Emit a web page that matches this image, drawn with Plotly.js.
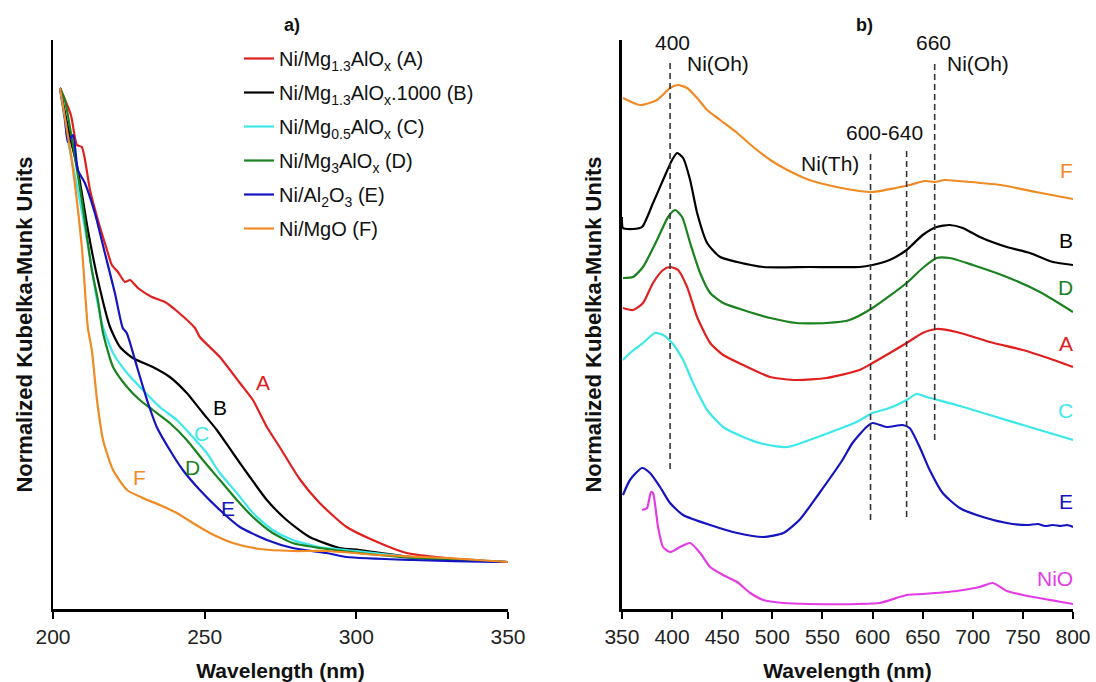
<!DOCTYPE html>
<html>
<head>
<meta charset="utf-8">
<script src="https://cdn.plot.ly/plotly-3.0.1.min.js"></script>
<style>
html,body{margin:0;padding:0;background:#fff;}
#chart{width:1096px;height:682px;}
</style>
</head>
<body>
<div id="chart"></div>
<script>
// ---------- Panel a) UV region (wavelength nm, normalized K-M units) ----------
var aA_x = [202.3,205.9,207.9,209.5,212.2,214.8,217.8,219.4,221.4,223.7,225.4,228.0,232.6,236.9,241.2,246.8,248.4,255.0,261.6,265.9,270.5,274.7,281.3,287.9,296.8,305.4,316.6,329.7,350];
var aA_y = [521,494,464,462,419,389,359,344,337,327,329,321,312,307,297,281,272,252,226,209,182,162,130,106,82,69,56,51,47];

var aB_x = [202.3,205.6,208.2,211.5,214.8,218.8,222.1,226.3,232.9,238.5,244.1,249.4,254.0,259.3,264.9,270.5,277.0,284.6,294.5,301.1,318.5,350];
var aB_y = [521,472,439,379,329,282,262,251,242,232,216,196,179,156,132,109,89,72,61,59,52,47];

var aC_x = [202.3,204.9,208.2,211.5,214.5,216.5,219.8,224.4,229.6,235.2,240.8,246.1,250.7,255.0,260.6,265.9,272.4,279.0,287.9,296.8,318.5,350];
var aC_y = [521,469,419,364,309,282,256,236,219,202,189,172,156,136,116,96,79,69,62,59,52,47];

var aD_x = [202.3,203.9,206.3,209.5,212.8,214.8,216.5,219.8,224.4,228.6,232.9,238.5,244.1,249.4,255.0,260.6,265.9,272.4,279.0,287.9,301.1,318.5,350];
var aD_y = [521,509,469,409,339,309,276,242,222,209,199,186,169,149,129,109,92,76,66,61,56,51,47];

var aE_x = [202.3,204.0,204.9,206.6,208.2,210.5,213.8,217.1,220.4,223.0,224.3,227.7,231.0,234.2,238.5,242.8,248.4,255.0,261.6,270.5,279.0,290.2,296.8,318.5,346.2,350];
var aE_y = [521,489,467,474,439,426,396,356,316,281,276,242,209,182,159,139,119,99,82,69,61,56,52,49,47,47];

var aF_x = [202.3,206.3,209.5,211.5,212.8,214.5,216.5,219.8,224.4,229.6,235.2,240.8,246.1,251.7,259.3,268.2,279.0,290.2,307.7,329.7,350];
var aF_y = [521,446,362,281,259,209,169,139,119,111,104,96,86,76,66,60,58,58,54,51,47];

// ---------- Panel b) visible region ----------
var bF_x = [351,368,385,398,406,415,425,435,448,465,481,498,515,537,564,587,600,623,637,652,662,672,686,728,763,800];
var bF_y = [511,504,509,521,524,521,511,499,489,476,462,449,439,429,422,418,417,421,424,428,427,429,428,424,417,410];

var bB_x = [350,351,361,370,381,391,400,405,411,418,425,435,448,465,491,537,587,600,617,634,650,664,677,690,707,734,757,780,800];
var bB_y = [392,381,380,382,406,429,449,456,451,429,396,366,352,347,342,342,342,344,349,359,374,382,384,381,372,362,356,347,344];

var bD_x = [351,361,371,385,396,403,410,418,428,438,451,471,498,524,554,577,600,634,650,664,677,700,734,767,800];
var bD_y = [331,332,342,369,392,399,392,366,336,316,306,299,291,286,286,289,301,326,341,351,351,344,332,317,297];

var bA_x = [351,361,371,381,391,398,406,415,425,438,451,471,498,524,554,587,600,634,650,664,684,717,750,775,800];
var bA_y = [301,299,306,326,339,342,339,322,292,266,254,244,232,229,231,239,246,266,276,280,277,267,259,251,242];

var bC_x = [351,358,371,383,391,400,411,421,435,451,471,491,515,537,564,584,600,617,634,644,654,684,717,750,800];
var bC_y = [249,256,266,276,274,266,249,226,199,182,172,165,162,169,179,187,196,201,209,215,212,204,194,184,169];

var bE_x = [351,358,370,378,388,398,411,438,465,491,511,527,547,570,580,594,600,614,630,637,647,657,670,687,710,734,754,765,772,780,788,794,800];
var bE_y = [114,129,141,136,122,106,94,84,76,72,76,89,116,149,166,182,186,182,184,181,162,139,116,101,92,86,84,85,83,84,83,84,82];

var bNiO_x = [370,375,379,381,386,391,398,408,418,428,438,451,465,478,491,511,537,587,607,634,650,684,707,720,734,750,800];
var bNiO_y = [99,101,117,116,82,62,57,62,66,56,42,34,27,16,9,6,5,5,6,14,15,18,22,26,18,14,5];

// reference band positions (nm) and their vertical extent
var bandNm    = [398, 598, 634, 662];
var bandLow   = [140, 89, 92, 169];
var bandHigh  = [549, 459, 462, 549];

var legendNames = [
  'Ni/Mg<sub>1.3</sub>AlO<sub>x</sub> (A)',
  'Ni/Mg<sub>1.3</sub>AlO<sub>x</sub>.1000 (B)',
  'Ni/Mg<sub>0.5</sub>AlO<sub>x</sub> (C)',
  'Ni/Mg<sub>3</sub>AlO<sub>x</sub> (D)',
  'Ni/Al<sub>2</sub>O<sub>3</sub> (E)',
  'Ni/MgO (F)'
];
var xTicksA = [200, 250, 300, 350];
var xTicksB = [350, 400, 450, 500, 550, 600, 650, 700, 750, 800];

// ---------- styles ----------
var C = {A:'#e0201e', B:'#000000', C:'#3ee8ea', D:'#1a821e', E:'#1414c0', F:'#f08a24', NiO:'#e43ce4'};
var FONT = 'Liberation Sans, Arial, sans-serif';
var LW = 2.2;

var traces = [];
var aSets = [[aA_x,aA_y,'A'],[aB_x,aB_y,'B'],[aC_x,aC_y,'C'],[aD_x,aD_y,'D'],[aE_x,aE_y,'E'],[aF_x,aF_y,'F']];
aSets.forEach(function(s, i){
  traces.push({x:s[0], y:s[1], type:'scatter', mode:'lines', name:legendNames[i],
    legendgroup:'g'+i, line:{color:C[s[2]], width:LW, shape:'spline', smoothing:0.6},
    xaxis:'x', yaxis:'y', hoverinfo:'skip'});
});
var bSets = [[bF_x,bF_y,'F'],[bB_x,bB_y,'B'],[bD_x,bD_y,'D'],[bA_x,bA_y,'A'],[bC_x,bC_y,'C'],[bE_x,bE_y,'E'],[bNiO_x,bNiO_y,'NiO']];
bSets.forEach(function(s){
  traces.push({x:s[0], y:s[1], type:'scatter', mode:'lines', showlegend:false,
    line:{color:C[s[2]], width:LW, shape:'spline', smoothing:0.6},
    xaxis:'x2', yaxis:'y2', hoverinfo:'skip'});
});
bandNm.forEach(function(nm, i){
  traces.push({x:[nm, nm], y:[bandLow[i], bandHigh[i]], type:'scatter', mode:'lines', showlegend:false,
    line:{color:'#333', width:1.6, dash:'6px,4px'}, xaxis:'x2', yaxis:'y2', hoverinfo:'skip'});
});

function ann(x, y, text, color, xref, yref, opts){
  var a = {x:x, y:y, xref:xref, yref:yref, text:text, showarrow:false,
    font:{family:FONT, size:21, color:color}};
  for (var k in (opts||{})) a[k] = opts[k];
  return a;
}
var annotations = [
  // panel a curve labels
  ann(269.1, 227, 'A', C.A, 'x', 'y'),
  ann(254.9, 202, 'B', C.B, 'x', 'y'),
  ann(249.1, 176, 'C', C.C, 'x', 'y'),
  ann(246.1, 142, 'D', C.D, 'x', 'y'),
  ann(257.6, 101, 'E', C.E, 'x', 'y'),
  ann(228.6, 132, 'F', C.F, 'x', 'y'),
  // panel b curve labels
  ann(800, 439, 'F', C.F, 'x2', 'y2', {xanchor:'right', xshift:2}),
  ann(800, 369, 'B', C.B, 'x2', 'y2', {xanchor:'right', xshift:2}),
  ann(800, 322, 'D', C.D, 'x2', 'y2', {xanchor:'right', xshift:2}),
  ann(800, 266, 'A', C.A, 'x2', 'y2', {xanchor:'right', xshift:2}),
  ann(800, 199, 'C', C.C, 'x2', 'y2', {xanchor:'right', xshift:2}),
  ann(800, 108, 'E', C.E, 'x2', 'y2', {xanchor:'right', xshift:2}),
  ann(800, 31, 'NiO', C.NiO, 'x2', 'y2', {xanchor:'right', xshift:2}),
  // band annotations
  ann(400, 567, '400', '#111', 'x2', 'y2'),
  ann(445.7, 546, 'Ni(Oh)', '#111', 'x2', 'y2'),
  ann(661, 567, '660', '#111', 'x2', 'y2'),
  ann(705, 546, 'Ni(Oh)', '#111', 'x2', 'y2'),
  ann(612, 477, '600-640', '#111', 'x2', 'y2'),
  ann(558, 446, 'Ni(Th)', '#111', 'x2', 'y2'),
  // panel titles (pixel positions, converted below)
  {x:292, y:25, xref:'paper', yref:'paper', yanchor:'middle', xanchor:'center', text:'<b>a)</b>', showarrow:false, font:{family:FONT, size:18, color:'#111'}},
  {x:864, y:25, xref:'paper', yref:'paper', yanchor:'middle', xanchor:'center', text:'<b>b)</b>', showarrow:false, font:{family:FONT, size:18, color:'#111'}}
];
var L=53, R=23, T=40, B=73, W=1096, H=682;
annotations.forEach(function(a){
  if (a.xref === 'paper') {
    a.x = (a.x - L) / (W - L - R);
    a.y = 1 - (a.y - T) / (H - T - B);
  }
});

var yTitle = '<b>Normalized Kubelka-Munk Units</b>\u00a0\u00a0\u00a0\u00a0\u00a0';

var axisCommon = {
  showgrid:false, zeroline:false, showline:true, linecolor:'#000', linewidth:2.5,
  ticks:'outside', ticklen:7, tickwidth:2, tickcolor:'#000',
  tickfont:{family:FONT, size:21, color:'#222'},
  title:{text:'<b>Wavelength (nm)</b>', font:{family:FONT, size:21, color:'#111'}, standoff:17},
  fixedrange:true
};
var yCommon = {
  showgrid:false, zeroline:false, showline:true, linecolor:'#000', linewidth:2.5,
  ticks:'', showticklabels:false, range:[0, 569],
  title:{text:yTitle, font:{family:FONT, size:22, color:'#111'}, standoff:12},
  fixedrange:true
};

var layout = {
  width:W, height:H,
  margin:{l:L, r:R, t:T, b:B},
  paper_bgcolor:'#fff', plot_bgcolor:'#fff',
  showlegend:true,
  legend:{x:(239-L)/(W-L-R), xanchor:'left', y:1-(39-T)/(H-T-B), yanchor:'top',
    font:{family:FONT, size:20, color:'#111'}, bgcolor:'rgba(0,0,0,0)', borderwidth:0,
    traceorder:'grouped', tracegroupgap:5, itemwidth:30},
  xaxis:Object.assign({}, axisCommon, {domain:[0, 0.4461], range:[200, 350], tickvals:xTicksA, anchor:'y'}),
  yaxis:Object.assign({}, yCommon, {domain:[0,1], anchor:'x'}),
  xaxis2:Object.assign({}, axisCommon, {domain:[0.5578, 1], range:[350, 800], tickvals:xTicksB, anchor:'y2'}),
  yaxis2:Object.assign({}, yCommon, {domain:[0,1], anchor:'x2'}),
  annotations:annotations
};

Plotly.newPlot('chart', traces, layout, {displayModeBar:false, staticPlot:true});
</script>
</body>
</html>
